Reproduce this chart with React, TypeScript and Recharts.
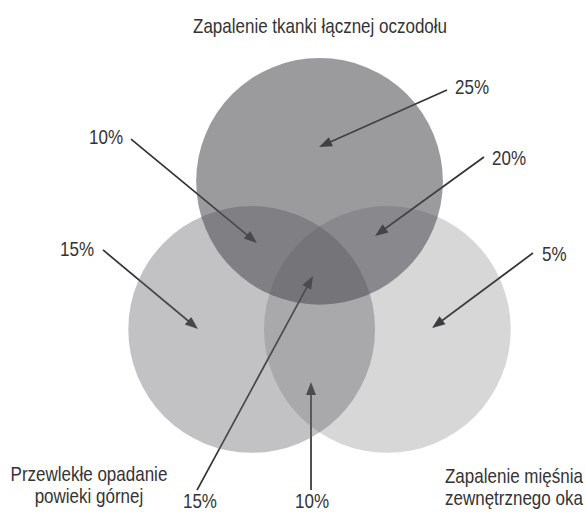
import React from "react";
import { ScatterChart, Scatter, XAxis, YAxis, ReferenceLine } from "recharts";

// sets of the diagram (A = top, B = left, C = right)
const setNames = [
  "Zapalenie tkanki łącznej oczodołu",
  "Przewlekłe opadanie|powieki górnej",
  "Zapalenie mięśnia|zewnętrznego oka",
];

// share of each region, in percent
const regionNames = ["A", "A∩B", "A∩C", "B", "C", "A∩B∩C", "B∩C"];
const regionShares = [25, 10, 20, 15, 5, 15, 10];

// layout, in diagram units (circle radius = 100)
const W = 586;
const H = 512;
const X_DOMAIN: [number, number] = [-259, 216];
const Y_DOMAIN: [number, number] = [-208, 207];
const PX = W / (X_DOMAIN[1] - X_DOMAIN[0]);
const RADIUS = 100;

const circleX = [0, -55, 55];
const circleY = [60, -60, -60];
const circleFill = ["#4b4b50", "#66666b", "#5c5c61"];
const circleOpacity = [0.557, 0.4, 0.246];
const drawOrder = [1, 2, 0];

const setLabelX = [0.4, -186.9, 101.7];
const setLabelY = [186.7, -185.3, -186.9];
const setLabelAnchor = ["middle", "middle", "start"];

// arrow start (next to the number) and tip (inside the region)
const arrowFromX = [103.3, -152.8, 133.3, -175.5, 173.0, -99.3, -6.9];
const arrowFromY = [134.0, 94.3, 79.7, 4.4, 1.9, -190.2, -190.2];
const arrowToX = [-0.4, -50.7, 45.0, -98.5, 91.2, -5.3, -6.9];
const arrowToY = [87.8, 10.0, 15.7, -59.7, -58.9, -16.7, -102.6];
const shareLabelX = [109.8, -159.3, 139.8, -182.8, 180.3, -96.9, -6.1];
const shareLabelY = [137.3, 96.0, 79.7, 6.0, 1.9, -198.5, -198.5];
const shareAnchor = ["start", "end", "start", "end", "start", "middle", "middle"];

// condensed look: Arial-metric font squeezed horizontally
const FONT = "'Liberation Sans', Arial, sans-serif";
const SQUEEZE = 0.85;
const INK = "#333335";

const circles = drawOrder.map((i) => ({
  x: circleX[i],
  y: circleY[i],
  set: i,
}));

const labels = [
  ...setNames.map((name, i) => ({
    x: setLabelX[i],
    y: setLabelY[i],
    text: name,
    anchor: setLabelAnchor[i],
  })),
  ...regionShares.map((v, i) => ({
    x: shareLabelX[i],
    y: shareLabelY[i],
    text: `${v}%`,
    anchor: shareAnchor[i],
    region: regionNames[i],
  })),
];

const renderCircle = (props: any) => {
  const { cx, cy, payload } = props;
  return (
    <circle
      cx={cx}
      cy={cy}
      r={RADIUS * PX}
      fill={circleFill[payload.set]}
      fillOpacity={circleOpacity[payload.set]}
      stroke="none"
    />
  );
};

const renderText = (props: any) => {
  const { cx, cy, payload } = props;
  const lines = String(payload.text).split("|");
  const lineH = 22;
  const top = -((lines.length - 1) * lineH) / 2;
  return (
    <text
      transform={`translate(${cx} ${cy}) scale(${SQUEEZE} 1)`}
      textAnchor={payload.anchor}
      fontFamily={FONT}
      fontSize={20}
      fill={INK}
      dominantBaseline="central"
    >
      {lines.map((l, k) => (
        <tspan key={k} x={0} y={top + k * lineH}>
          {l}
        </tspan>
      ))}
    </text>
  );
};

const renderArrow = (props: any) => {
  const { x1, y1, x2, y2 } = props;
  const dx = x2 - x1;
  const dy = y2 - y1;
  const len = Math.sqrt(dx * dx + dy * dy) || 1;
  const ux = dx / len;
  const uy = dy / len;
  const head = 13;
  const half = 5;
  const bx = x2 - ux * head;
  const by = y2 - uy * head;
  const pts = `${x2},${y2} ${bx - uy * half},${by + ux * half} ${bx + uy * half},${by - ux * half}`;
  return (
    <g>
      <line x1={x1} y1={y1} x2={bx + ux * 2} y2={by + uy * 2} stroke={INK} strokeWidth={1.7} />
      <polygon points={pts} fill={INK} />
    </g>
  );
};

export default function App() {
  return (
    <div style={{ position: "absolute", left: 0, top: 0, background: "#fff" }}>
      <ScatterChart width={W} height={H} margin={{ top: 0, right: 0, bottom: 0, left: 0 }}>
        <XAxis type="number" dataKey="x" domain={X_DOMAIN} allowDataOverflow hide />
        <YAxis type="number" dataKey="y" domain={Y_DOMAIN} allowDataOverflow hide />
        <Scatter data={circles} shape={renderCircle} isAnimationActive={false} />
        {regionShares.map((_, i) => (
          <ReferenceLine
            key={i}
            segment={[
              { x: arrowFromX[i], y: arrowFromY[i] },
              { x: arrowToX[i], y: arrowToY[i] },
            ]}
            shape={renderArrow}
            ifOverflow="visible"
          />
        ))}
        <Scatter data={labels} shape={renderText} isAnimationActive={false} />
      </ScatterChart>
    </div>
  );
}
